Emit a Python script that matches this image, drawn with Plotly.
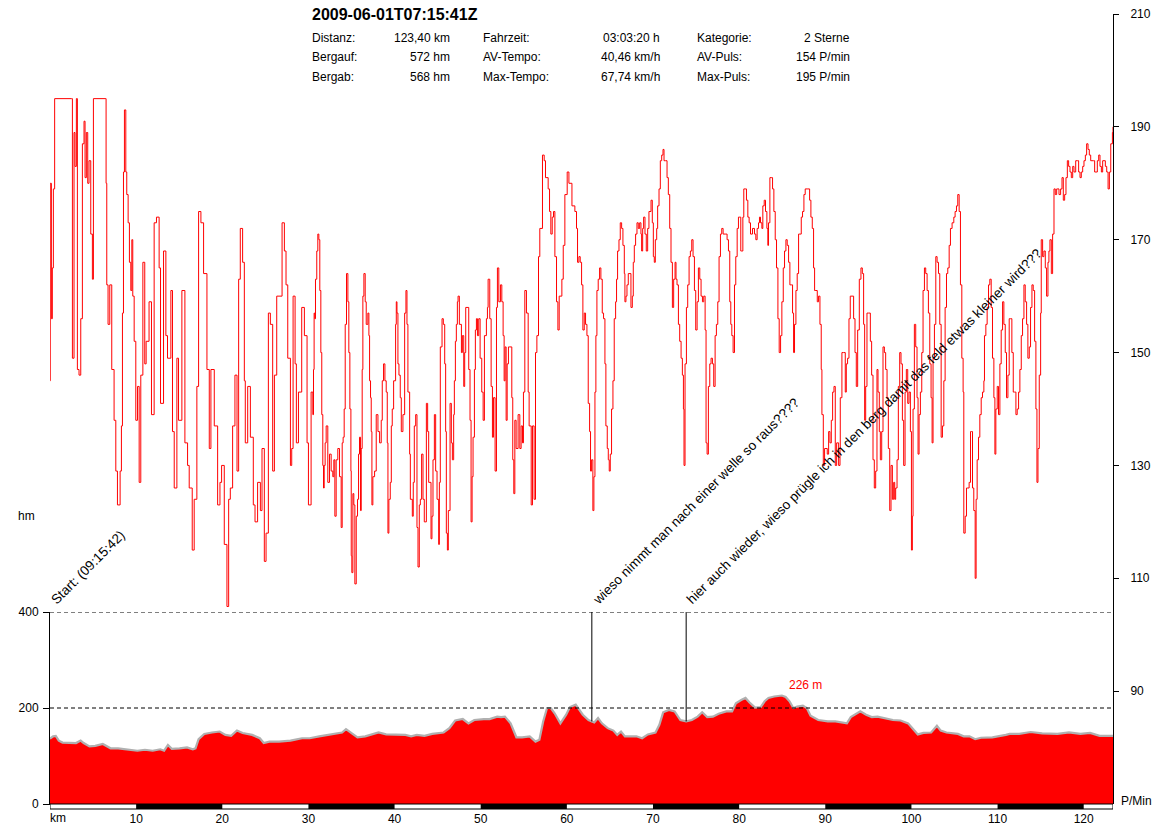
import numpy as np
import plotly.graph_objects as go

# ---------------- data ----------------
title_text = "2009-06-01T07:15:41Z"
stat_labels_1 = ["Distanz:", "Bergauf:", "Bergab:"]
stat_values_1 = ["123,40 km", "572 hm", "568 hm"]
stat_labels_2 = ["Fahrzeit:", "AV-Tempo:", "Max-Tempo:"]
stat_values_2 = ["03:03:20 h", "40,46 km/h", "67,74 km/h"]
stat_labels_3 = ["Kategorie:", "AV-Puls:", "Max-Puls:"]
stat_values_3 = ["2 Sterne", "154 P/min", "195 P/min"]

total_km = 123.4
km_ticks = [10, 20, 30, 40, 50, 60, 70, 80, 90, 100, 110, 120]
elev_ticks = [0, 200, 400]
hr_ticks = [90, 110, 130, 150, 170, 190, 210]

hr_km = [
    0.0, 0.03, 0.16, 0.27, 0.39, 0.54, 2.48, 2.6, 2.79, 2.9, 3.06, 3.18, 3.37, 3.57, 3.76, 3.95, 4.07, 4.22, 4.38, 4.53,
    4.73, 4.92, 5.04, 6.4, 6.51, 6.59, 6.74, 6.94, 7.17, 7.44, 7.64, 7.83, 8.14, 8.29, 8.41, 8.53, 8.64, 8.8, 8.91, 9.07,
    9.22, 9.38, 9.5, 9.61, 9.77, 9.96, 10.16, 10.35, 10.54, 10.78, 11.0, 11.16, 11.5, 11.78, 12.09, 12.36, 12.67, 12.83,
    13.18, 13.45, 13.64, 14.03, 14.22, 14.42, 14.73, 14.92, 15.31, 15.66, 15.97, 16.16, 16.51, 16.74, 17.05, 17.25, 17.52,
    17.83, 18.22, 18.49, 18.68, 19.07, 19.46, 19.73, 19.92, 20.23, 20.54, 20.74, 20.93, 21.2, 21.47, 21.71, 21.9, 22.09,
    22.36, 22.56, 22.67, 22.95, 23.26, 23.6, 23.8, 24.1, 24.42, 24.61, 24.88, 25.08, 25.35, 25.58, 25.85, 26.05, 26.32,
    26.94, 27.21, 27.4, 27.6, 27.91, 28.06, 28.22, 28.45, 28.6, 28.84, 29.22, 29.53, 29.84, 30.0,
    30.31, 30.51, 30.59, 30.66, 30.74, 30.82, 30.97, 31.09, 31.21, 31.32, 31.44, 31.55, 31.67, 31.75, 31.83, 31.94, 32.06,
    32.25, 32.45, 32.64, 32.83, 32.95, 33.07, 33.22, 33.41, 33.61, 33.8, 33.92, 34.03, 34.15, 34.27, 34.42, 34.58, 34.69,
    34.81, 34.93, 34.97, 35.04, 35.16, 35.27, 35.39, 35.55, 35.7, 35.82, 35.93, 36.05, 36.13, 36.24, 36.32, 36.44, 36.59,
    36.71, 36.9, 37.02, 37.1, 37.21, 37.29, 37.37, 37.48, 37.68, 37.87, 38.07, 38.26, 38.45, 38.57, 38.72, 38.88, 39.03,
    39.15, 39.23, 39.34, 39.5, 39.62, 39.73, 39.89, 40.12, 40.2, 40.28, 40.39, 40.51, 40.66, 40.78, 40.97, 41.17, 41.32,
    41.44, 41.55, 41.75, 41.83, 42.06, 42.17, 42.29, 42.45, 42.6, 42.72, 42.87, 42.99, 43.14, 43.3, 43.45, 43.69, 43.84,
    43.96, 44.23, 44.34, 44.46, 44.62, 44.77, 44.93, 45.12, 45.2, 45.31, 45.51, 45.66, 45.82, 45.93, 46.01, 46.13, 46.24,
    46.44, 46.59, 46.71, 46.86, 46.94, 47.06, 47.17, 47.29, 47.37, 47.52, 47.76, 47.87, 48.03, 48.14, 48.26, 48.41, 48.61,
    48.76, 48.88, 49.0, 49.11, 49.27, 49.38, 49.5, 49.62, 49.77, 49.93, 50.12, 50.28, 50.43, 50.66, 50.78, 50.86, 51.05,
    51.21, 51.36, 51.48, 51.67, 51.83, 51.94, 52.1, 52.29, 52.45, 52.6, 52.72, 52.83, 52.95, 53.07, 53.22, 53.38, 53.61,
    53.72, 53.84, 53.96, 54.11, 54.34, 54.54, 54.69, 54.85, 54.96, 55.12, 55.31, 55.51, 55.62, 55.86, 56.01, 56.2, 56.36,
    56.52, 56.71, 56.86, 57.17, 57.37, 57.52, 57.83, 57.99, 58.14, 58.3, 58.45, 58.61, 58.8, 58.96, 59.11, 59.42, 59.58,
    59.77, 60.04, 60.24, 60.59,
    60.93, 61.12, 61.24, 61.4, 61.55, 61.71, 61.86, 62.02, 62.17, 62.33, 62.48, 62.64, 62.75, 62.87, 63.02, 63.14, 63.26,
    63.37, 63.49, 63.64, 63.8, 63.95, 64.11, 64.26, 64.42, 64.53, 64.69, 64.81, 64.92, 65.04, 65.19, 65.35, 65.5, 65.66,
    65.77, 65.89, 66.05, 66.2, 66.36, 66.51, 66.67, 66.74, 66.86, 66.98, 67.13, 67.33, 67.44, 67.6, 67.71, 67.83, 67.98,
    68.14, 68.29, 68.45, 68.6, 68.68, 68.8, 68.91, 69.07, 69.22, 69.38, 69.53, 69.77, 69.92, 70.04, 70.15, 70.27, 70.43,
    70.54, 70.7, 70.85, 71.01, 71.16, 71.28, 71.47, 71.63, 71.78, 71.94, 72.09, 72.25, 72.4, 72.56, 72.67, 72.79, 72.95,
    73.1, 73.26, 73.41, 73.53, 73.6, 73.72, 73.88, 74.03, 74.19, 74.34, 74.5, 74.65, 74.81, 74.96, 75.12, 75.27, 75.43,
    75.58, 75.74, 75.89, 76.05, 76.16, 76.28, 76.43, 76.59, 76.74, 76.9, 77.05, 77.21, 77.36, 77.52, 77.67, 77.83, 77.98,
    78.14, 78.37, 78.6, 78.76, 78.91, 79.03, 79.15, 79.3, 79.46, 79.61, 79.77, 79.92, 80.08, 80.19, 80.31, 80.43, 80.54,
    80.7, 80.85, 81.01, 81.16, 81.32, 81.55, 81.78, 81.94, 82.09, 82.25, 82.36, 82.48, 82.64, 82.75, 82.91, 83.06, 83.22,
    83.33, 83.41, 83.57, 83.72, 83.88, 84.03, 84.19, 84.34, 84.5, 84.65, 84.81, 84.96, 85.12, 85.27, 85.43, 85.58, 85.74,
    85.89, 86.05, 86.2, 86.32, 86.43, 86.59, 86.74, 86.9, 87.05, 87.21, 87.36, 87.52, 87.67, 87.98, 88.18, 88.33, 88.49,
    88.64, 88.76, 88.91, 89.07, 89.22, 89.38, 89.53, 89.61, 89.77, 89.92, 90.08, 90.23, 90.39, 90.54, 90.7, 90.85, 91.01,
    91.16, 91.32, 91.55, 91.71,
    91.74, 91.93, 92.13, 92.32, 92.44, 92.59, 92.75, 92.9, 93.1, 93.29, 93.45, 93.6, 93.76, 93.95, 94.14, 94.3, 94.45,
    94.57, 94.69, 94.84, 95.03, 95.23, 95.38, 95.54, 95.69, 95.85, 96.0, 96.12, 96.27, 96.39, 96.55, 96.7, 96.86, 97.01,
    97.17, 97.32, 97.48, 97.63, 97.79, 97.94, 98.06, 98.17, 98.33, 98.48, 98.64, 98.79, 98.95, 99.1, 99.26, 99.41, 99.57,
    99.72, 99.88, 100.0, 100.11, 100.19, 100.34, 100.5, 100.65, 100.77, 100.89, 101.04, 101.2, 101.35, 101.51, 101.66,
    101.82, 101.97, 102.13, 102.28, 102.4, 102.51, 102.67, 102.83, 102.98, 103.14, 103.29, 103.45, 103.6, 103.76, 103.91,
    104.07, 104.22, 104.38, 104.53, 104.72, 104.92, 105.07, 105.23, 105.38, 105.54, 105.69, 105.85, 106.0, 106.08, 106.24,
    106.39, 106.55, 106.7, 106.86, 106.97, 107.09, 107.24, 107.4, 107.51, 107.63, 107.79, 107.94, 108.1, 108.25, 108.41,
    108.48, 108.64, 108.79, 108.95, 109.1, 109.26, 109.41, 109.57, 109.69, 109.8, 109.96, 110.11, 110.27, 110.42, 110.58,
    110.73, 110.89, 111.04, 111.2, 111.35, 111.51, 111.66, 111.82, 111.97, 112.13, 112.28, 112.44, 112.59, 112.75, 112.9,
    113.06, 113.21, 113.37, 113.52, 113.68, 113.83, 113.99, 114.14, 114.3, 114.45, 114.57, 114.69, 114.84, 115.0, 115.07,
    115.23, 115.38, 115.54, 115.69, 115.85, 115.96, 116.08, 116.24, 116.39, 116.55, 116.7, 116.86, 117.01, 117.13, 117.32,
    117.48, 117.63, 117.79, 117.94, 118.1, 118.25, 118.41, 118.56, 118.72, 118.87, 119.07, 119.26, 119.41, 119.57, 119.72,
    119.88, 120.03, 120.19, 120.34, 120.5, 120.65, 120.81, 120.96, 121.12, 121.27, 121.43, 121.58, 121.74, 121.89, 122.05,
    122.2, 122.36, 122.51, 122.67, 122.83, 122.98, 123.14, 123.33, 123.4,
]
hr_bpm = [
    145, 180, 156, 165, 179, 195, 195, 149, 189, 183, 195, 147, 146, 156, 187, 191, 181, 189, 180, 184,
    171, 163, 195, 195, 180, 162, 155, 162, 147, 138, 129, 123, 129, 137, 157, 182, 193, 182, 178, 173,
    166, 161, 170, 160, 152, 138, 144, 127, 146, 166, 148, 152, 159, 139, 173, 174, 165, 141,
    168, 153, 149, 161, 136, 126, 149, 138, 161, 134, 130, 126, 115, 124, 144, 175, 173,
    164, 147, 133, 147, 137, 123, 127, 130, 116, 105, 124, 126, 137, 146, 129, 163, 172,
    166, 145, 134, 144, 135, 123, 120, 127, 122, 133, 113, 118, 157, 155, 129, 146, 160,
    173, 168, 162, 149, 130, 133, 160, 148, 134, 143, 158, 153, 134, 123,
    143, 139, 147, 157, 156, 163, 168, 171, 170, 161, 150, 139, 130, 126, 130, 134, 137,
    127, 132, 129, 128, 131, 121, 131, 133, 128, 119, 134, 135, 140, 155, 164, 159, 150,
    140, 129, 114, 111, 125, 123, 109, 121, 124, 132, 135, 122, 133, 147, 160, 164, 159,
    155, 157, 153, 145, 142, 136, 123, 128, 129, 139, 136, 134, 138, 145, 148, 145, 143,
    134, 118, 124, 127, 137, 140, 145, 155, 159, 157, 148, 146, 142, 136, 139, 157, 161,
    155, 143, 132, 124, 121, 127, 137, 139, 119, 112, 123, 124, 132, 124, 120, 141, 136,
    127, 117, 121, 131, 139, 129, 124, 116, 127, 151, 156, 155, 148, 136, 118, 115, 122,
    141, 134, 131, 139, 145, 152, 155, 159, 160, 155, 150, 153, 144, 150, 158, 158, 147,
    138, 120, 128, 135, 147, 154, 156, 153, 156, 149, 143, 138, 153, 156, 158, 163, 156,
    144, 135, 142, 129, 158, 165, 159, 162, 159, 153, 145, 151, 138, 148, 151, 151, 142,
    131, 125, 138, 133, 139, 133, 137, 134, 143, 161, 157, 143, 137, 123, 137, 124, 150,
    153, 167, 172, 185, 184, 181, 179, 175, 171, 174, 175, 167, 159, 154, 160, 163, 169,
    178, 182, 180, 176,
    175, 172, 166, 167, 166, 162, 154, 157, 155, 153, 141, 136, 129, 131, 122, 128, 143,
    153, 161, 163, 165, 163, 157, 156, 148, 137, 133, 131, 129, 132, 140, 145, 156, 159,
    163, 168, 170, 173, 172, 169, 164, 159, 160, 162, 164, 164, 158, 160, 166, 169, 171,
    173, 172, 173, 171, 168, 172, 174, 171, 168, 172, 175, 177, 173, 167, 166, 170, 172,
    176, 179, 184, 185, 186, 184, 184, 181, 178, 172, 166, 158, 163, 166, 163, 162, 155,
    152, 149, 146, 140, 130, 148, 158, 162, 167, 168, 170, 167, 161, 154, 159, 165, 163,
    160, 159, 160, 154, 134, 132, 144, 148, 149, 148, 144, 153, 155, 159, 167, 171, 172,
    171, 171, 170, 168, 159, 155, 153, 150, 162, 167, 172, 174, 174, 168, 168, 174, 179,
    179, 177, 174, 173, 171, 172, 171, 170, 172, 173, 174, 173, 172, 176, 177, 175, 172,
    169, 173, 181, 181, 179, 175, 170, 165, 156, 150, 153, 159, 165, 168, 170, 169, 166,
    162, 162, 157, 150, 155, 161, 164, 171, 171, 174, 175, 178, 179, 179, 177, 174, 172,
    165, 161, 161, 159, 160, 155, 147, 139, 130, 133, 133, 132, 136, 134, 138, 143, 144,
    130, 134, 130, 133,
    142, 150, 150, 143, 148, 149, 156, 160, 160, 156, 150, 144, 154, 163, 165, 164, 155,
    138, 144, 157, 157, 152, 146, 131, 126, 129, 147, 143, 136, 131, 136, 151, 150, 147,
    142, 133, 122, 130, 124, 127, 124, 126, 131, 144, 150, 148, 138, 130, 143, 147, 141,
    143, 136, 115, 121, 140, 155, 151, 142, 132, 139, 143, 150, 161, 165, 164,
    161, 157, 148, 142, 134, 149, 155, 167, 166, 164, 155, 135, 137, 145, 158,
    164, 165, 169, 172, 173, 174, 175, 176, 178, 175, 162, 149, 143, 118, 121,
    126, 126, 127, 136, 136, 126, 122, 110, 124, 131, 135, 139, 142, 143, 145,
    153, 155, 158, 162, 163, 158, 149, 142, 132, 140, 144, 139, 148, 154, 159,
    155, 150, 142, 146, 156, 156, 150, 143, 143, 139, 140, 143, 147, 153, 156,
    162, 159, 155, 149, 151, 158, 162, 161, 152, 140, 127, 133, 146, 157, 170,
    167, 168, 165, 160, 166, 168, 170, 164, 171, 179, 178, 179, 179, 178, 179,
    181, 177, 178, 181, 184, 183, 182, 181, 183, 182, 184, 184, 182, 181, 182,
    183, 184, 185, 187, 186, 185, 184, 184, 184, 182, 182, 184, 185, 183, 182,
    184, 184, 183, 182, 179, 182, 187, 189, 190,
]

elev_km = [
    0.0, 0.36, 0.67, 1.02, 1.46, 2.14, 3.02, 3.56, 3.91, 4.58, 5.25, 6.13, 7.03, 7.91, 8.8, 9.47, 10.14, 11.02, 11.92,
    12.8, 13.25, 13.69, 14.14, 15.03, 15.91, 16.58, 16.89, 17.25, 17.91, 18.8, 19.7, 20.36, 21.03, 21.7, 22.36, 23.47,
    24.36, 24.81, 25.47, 26.59, 27.92, 29.25, 30.14, 31.25, 32.81, 33.91, 34.36, 35.03, 35.69, 36.59, 37.47, 38.14,
    39.02, 39.92, 41.25, 41.92, 42.58, 43.47, 44.37, 45.69, 46.36, 47.03, 47.92, 48.58, 49.25, 50.36, 51.03, 51.92,
    52.36, 52.81, 53.47, 54.14, 54.81, 55.69, 56.36, 56.81, 57.25, 57.7, 58.14, 58.58, 59.25, 59.92, 60.36, 61.03,
    61.85, 62.51, 63.18, 63.62, 64.07, 64.74, 65.4, 65.85, 66.29, 66.74, 67.4, 68.07, 68.74, 69.4, 70.29, 70.74, 71.18,
    71.85, 72.51, 73.18, 73.85, 74.51, 75.18, 75.71, 76.29, 76.96, 77.62, 78.51, 79.18, 79.62, 80.29, 80.74, 81.18,
    81.85, 82.51, 82.96, 83.4, 84.07, 84.96, 85.4, 85.85, 86.29, 86.74, 87.4, 87.85, 88.29, 89.18, 90.29, 91.18, 91.85,
    92.51, 92.96, 93.62, 94.07, 94.74, 95.4, 96.07, 96.96, 97.85, 98.74, 99.62, 100.29, 100.74, 101.4, 102.29, 102.96,
    103.4, 104.07, 105.4, 106.07, 106.74, 107.4, 108.07, 109.4, 110.29, 110.96, 111.4, 112.51, 113.85, 115.18, 116.96,
    118.29, 119.62, 120.74, 121.85, 123.18, 123.4,
]
elev_m = [
    136, 141, 142, 132, 128, 127, 127, 132, 127, 120, 121, 125, 116, 116, 114, 113, 111, 113, 111,
    114, 111, 123, 115, 116, 118, 114, 116, 135, 146, 149, 151, 144, 142, 153, 148, 144,
    137, 127, 130, 130, 132, 137, 137, 141, 146, 149, 156, 148, 139, 141, 146, 149,
    145, 144, 144, 141, 144, 142, 146, 149, 158, 174, 177, 168, 175, 177, 177, 182,
    181, 182, 168, 139, 139, 141, 130, 134, 172, 200, 200, 189, 168, 186, 202, 207,
    186, 175, 170, 179, 168, 158, 153, 144, 151, 141, 141, 141, 137, 145, 149, 165, 191,
    196, 193, 175, 172, 175, 182, 191, 181, 182, 188, 193, 193, 210, 217, 221, 212,
    201, 202, 214, 221, 224, 226, 223, 214, 200, 203, 205, 200, 184, 175, 172, 172, 170,
    168, 181, 188, 193, 186, 181, 182, 179, 175, 174, 168, 154, 145, 148, 149, 163,
    153, 149, 146, 141, 141, 135, 138, 139, 141, 144, 146, 146, 150, 147, 146,
    149, 146, 148, 142, 142, 142,
]

note_km = [0.0, 62.9, 73.85]
note_text = [
    "Start: (09:15:42)",
    "wieso nimmt man nach einer welle so raus????",
    "hier auch wieder, wieso prügle ich in den berg damit das feld etwas kleiner wird???",
]

# ---------------- layout helpers ----------------
W, H = 1162, 829
ML, MR, MT, MB = 50, 49, 14, 25
PW, PH = W - ML - MR, H - MT - MB
FONT = "Liberation Sans, Arial, sans-serif"


def px(x):
    return (x - ML) / PW


def py(y):
    return (H - MB - y) / PH


RED = "#FF0000"
elev_top = 400
elev_domain_top = py(612)

fig = go.Figure()

fig.add_trace(go.Scatter(
    x=elev_km, y=elev_m, xaxis="x", yaxis="y", mode="lines",
    fill="tozeroy", fillcolor=RED,
    line=dict(color="#B0B0B0", width=2.2), hoverinfo="skip", showlegend=False,
))
fig.add_trace(go.Scatter(
    x=hr_km, y=hr_bpm, xaxis="x", yaxis="y2", mode="lines",
    line=dict(color=RED, width=1, shape="hv"), showlegend=False,
))

shapes = []
for v in elev_ticks[1:]:
    shapes.append(dict(type="line", xref="paper", yref="y", x0=0, x1=1, y0=v, y1=v,
                       line=dict(color="black", width=1, dash="4px,3px"), layer="above"))
for k in note_km[1:]:
    e = float(np.interp(k, elev_km, elev_m))
    shapes.append(dict(type="line", xref="x", yref="y", x0=k, x1=k, y0=e, y1=elev_top,
                       line=dict(color="black", width=1), layer="above"))
bar_h = 5 / PH
shapes.append(dict(type="rect", xref="x", yref="paper", x0=0, x1=total_km, y0=-bar_h, y1=0,
                   fillcolor="white", line=dict(color="black", width=1), layer="above"))
edges = [0] + km_ticks + [total_km]
for i in range(len(edges) - 1):
    if i % 2 == 1:
        shapes.append(dict(type="rect", xref="x", yref="paper", x0=edges[i], x1=edges[i + 1],
                           y0=-bar_h, y1=0, fillcolor="black", line=dict(width=0), layer="above"))

ann = []
ann.append(dict(text="<b>" + title_text + "</b>", x=px(310), y=py(14), xref="paper", yref="paper",
                xanchor="left", yanchor="middle", showarrow=False, font=dict(size=16, color="black", family=FONT)))
row_y = [37.5, 57, 77]
cols = [(stat_labels_1, stat_values_1, 310, 452), (stat_labels_2, stat_values_2, 481, 662),
        (stat_labels_3, stat_values_3, 695, 852)]
for labels, values, lx, rx in cols:
    for lab, val, yy in zip(labels, values, row_y):
        ann.append(dict(text=lab, x=px(lx), y=py(yy), xref="paper", yref="paper", xanchor="left",
                        yanchor="middle", showarrow=False, font=dict(size=12, color="black", family=FONT)))
        ann.append(dict(text=val, x=px(rx), y=py(yy), xref="paper", yref="paper", xanchor="right",
                        yanchor="middle", showarrow=False, font=dict(size=12, color="black", family=FONT)))

ann.append(dict(text="hm", x=px(37), y=py(516), xref="paper", yref="paper", xanchor="right", yanchor="middle",
                showarrow=False, font=dict(size=12, color="black", family=FONT)))
ann.append(dict(text="km", x=px(48), y=py(818), xref="paper", yref="paper", xanchor="left", yanchor="middle",
                showarrow=False, font=dict(size=12, color="black", family=FONT)))
ann.append(dict(text="P/Min", x=px(1119), y=py(801), xref="paper", yref="paper", xanchor="left",
                yanchor="middle", showarrow=False, font=dict(size=12, color="black", family=FONT)))

imax = int(np.argmax(elev_m))
ann.append(dict(text=f"{elev_m[imax]} m", x=elev_km[imax] + 2.7, y=elev_m[imax] + 21, xref="x", yref="y",
                xanchor="center", yanchor="middle", showarrow=False,
                font=dict(size=12, color=RED, family=FONT)))

for k, t in zip(note_km, note_text):
    ann.append(dict(text=t, x=k, y=elev_top, xref="x", yref="y", textangle=-45,
                    xanchor="left", yanchor="bottom", xshift=-5, yshift=2, showarrow=False,
                    font=dict(size=13.5, color="black", family=FONT)))

fig.update_layout(
    template="none",
    width=W, height=H, autosize=False,
    margin=dict(l=ML, r=MR, t=MT, b=MB, pad=0, autoexpand=False),
    paper_bgcolor="white", plot_bgcolor="rgba(0,0,0,0)",
    showlegend=False,
    font=dict(family=FONT, size=12, color="black"),
    xaxis=dict(range=[0, total_km], tickvals=km_ticks, ticks="", showline=True, linecolor="black",
               linewidth=1, showgrid=False, zeroline=False, tickfont=dict(size=12, color="black"),
               ticklabelstandoff=4, fixedrange=True, automargin=False),
    yaxis=dict(domain=[0, elev_domain_top], range=[0, elev_top], tickvals=elev_ticks, ticks="outside",
               ticklen=6, tickcolor="black", showline=True, linecolor="black", linewidth=1,
               showgrid=False, zeroline=False, anchor="x", side="left", automargin=False,
               tickfont=dict(size=12, color="black"), ticklabelstandoff=2, fixedrange=True),
    yaxis2=dict(domain=[0, 1], range=[70, 210], tickvals=hr_ticks, ticks="outside", ticklen=5,
                tickcolor="black", showline=True, linecolor="black", linewidth=1, showgrid=False,
                zeroline=False, anchor="x", side="right", tickfont=dict(size=12, color="black"),
                ticklabelstandoff=9, fixedrange=True, automargin=False),
    shapes=shapes,
    annotations=ann,
)

fig.write_html("out.html", config={"displayModeBar": False, "staticPlot": True},
               post_script="document.body.style.margin='0';document.body.style.overflow='hidden';")
